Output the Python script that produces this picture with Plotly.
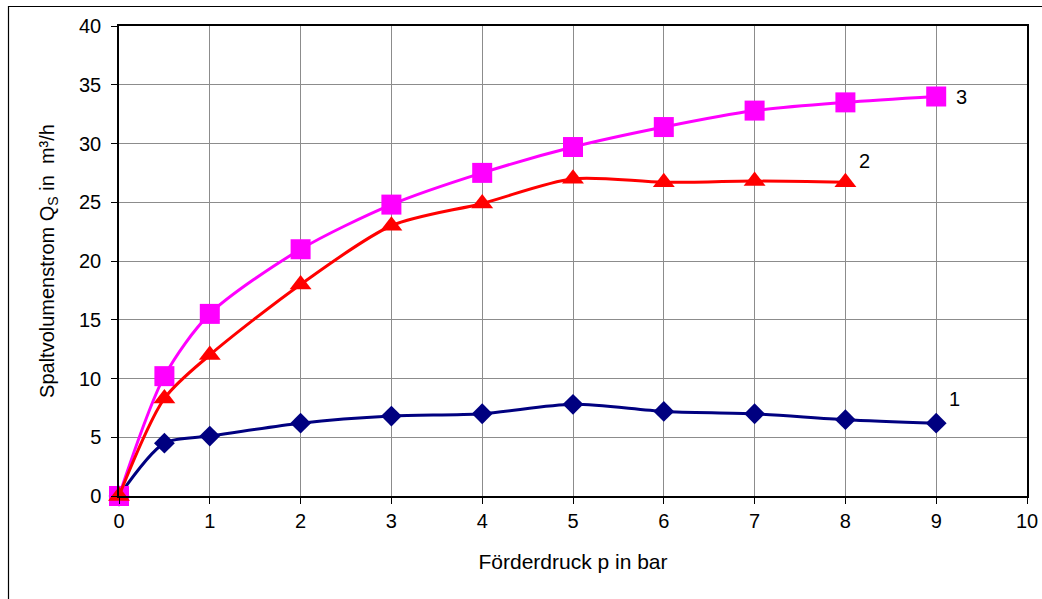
import plotly.graph_objects as go

x1 = [0, 0.5, 1, 2, 3, 4, 5, 6, 7, 8, 9]
y1 = [0, 4.5, 5.1, 6.2, 6.8, 7.0, 7.8, 7.2, 7.0, 6.5, 6.2]
x2 = [0, 0.5, 1, 2, 3, 4, 5, 6, 7, 8]
y2 = [0, 8.3, 12.0, 18.0, 23.0, 24.9, 27.0, 26.7, 26.8, 26.7]
x3 = [0, 0.5, 1, 2, 3, 4, 5, 6, 7, 8, 9]
y3 = [0, 10.2, 15.5, 21.0, 24.8, 27.5, 29.7, 31.4, 32.8, 33.5, 34.0]
labels = ["1", "2", "3"]

FONT = "Liberation Sans, Arial, sans-serif"
FS = 20

fig = go.Figure()
fig.add_trace(go.Scatter(x=x1, y=y1, mode="lines+markers", name=labels[0], cliponaxis=False,
                         line=dict(color="#000080", width=3, shape="spline", smoothing=0.8),
                         marker=dict(symbol="diamond", size=16, color="#000080")))
fig.add_trace(go.Scatter(x=x3, y=y3, mode="lines+markers", name=labels[2], cliponaxis=False,
                         line=dict(color="#ff00ff", width=3, shape="spline", smoothing=0.8),
                         marker=dict(symbol="square", size=20, color="#ff00ff")))
fig.add_trace(go.Scatter(x=x2, y=y2, mode="lines+markers", name=labels[1], cliponaxis=False,
                         line=dict(color="#ff0000", width=3, shape="spline", smoothing=0.8),
                         marker=dict(symbol="triangle-up", size=19, color="#ff0000")))

# white label boxes interrupting gridlines
fig.add_shape(type="rect", xref="x", yref="y", x0=9.14, x1=9.63, y0=33.0, y1=35.9,
              fillcolor="white", line=dict(width=0), layer="below")
fig.add_shape(type="rect", xref="x", yref="y", x0=9.11, x1=9.49, y0=7.0, y1=11.1,
              fillcolor="white", line=dict(width=0), layer="below")

# series labels
fig.add_annotation(x=x1[-1], y=y1[-1], text=labels[0], showarrow=False,
                   xanchor="left", yanchor="middle", xshift=11, yshift=24,
                   font=dict(family=FONT, size=FS, color="black"))
fig.add_annotation(x=x2[-1], y=y2[-1], text=labels[1], showarrow=False,
                   xanchor="left", yanchor="middle", xshift=12, yshift=21,
                   font=dict(family=FONT, size=FS, color="black"))
fig.add_annotation(x=x3[-1], y=y3[-1], text=labels[2], showarrow=False,
                   xanchor="left", yanchor="middle", xshift=18, yshift=0,
                   font=dict(family=FONT, size=FS, color="black"))

W, H = 1042, 599
L, R, T, B = 119, 1027, 26, 496
pw, ph = R - L, B - T

# outer frame
fig.add_shape(type="rect", xref="paper", yref="paper",
              x0=(8.5 - L) / pw, x1=(1070 - L) / pw,
              y0=(B - 640) / ph, y1=(B - 6.5) / ph,
              line=dict(color="black", width=1.2), fillcolor="rgba(0,0,0,0)", layer="above")

fig.update_xaxes(range=[0, 10], tickmode="linear", tick0=0, dtick=1,
                 showgrid=True, gridcolor="#8c8c8c", gridwidth=1,
                 showline=True, linecolor="black", linewidth=1.5, mirror=True,
                 ticks="outside", ticklen=6, tickcolor="black",
                 ticklabeloverflow="allow", zeroline=False, automargin=False,
                 tickfont=dict(family=FONT, size=FS, color="black"),
                 title=dict(text="Förderdruck p in bar", font=dict(family=FONT, size=21, color="black"),
                            standoff=24))
fig.update_yaxes(range=[0, 40], tickmode="linear", tick0=0, dtick=5,
                 showgrid=True, gridcolor="#8c8c8c", gridwidth=1,
                 showline=True, linecolor="black", linewidth=1.5, mirror=True,
                 ticks="outside", ticklen=6, tickcolor="black", ticklabelstandoff=6,
                 zeroline=False, automargin=False,
                 tickfont=dict(family=FONT, size=FS, color="black"),
                 title=dict(text="Spaltvolumenstrom Q<sub>S</sub> in  m³/h",
                            font=dict(family=FONT, size=FS, color="black"), standoff=19))

fig.update_layout(width=W, height=H, showlegend=False,
                  margin=dict(l=L, r=W - R, t=T, b=H - B, autoexpand=False),
                  paper_bgcolor="white", plot_bgcolor="white",
                  font=dict(family=FONT))

fig.write_html("out.html", config={"displayModeBar": False},
               post_script="document.body.style.margin='0px';")
